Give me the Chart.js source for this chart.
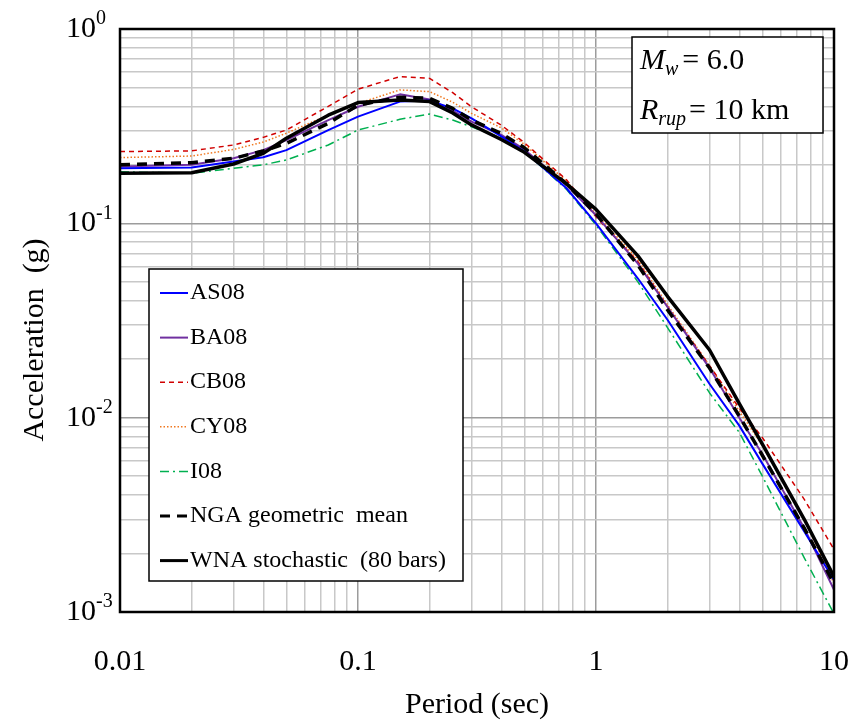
<!DOCTYPE html>
<html><head><meta charset="utf-8">
<script src="https://cdn.jsdelivr.net/npm/chart.js@4.4.1/dist/chart.umd.min.js"></script>
<style>html,body{margin:0;padding:0;background:#fff}#wrap{width:853px;height:723px;position:relative}</style>
</head><body><div id="wrap"><canvas id="c" width="853" height="723"></canvas></div>
<script>
// ---- data ----
const periods = [0.01,0.02,0.03,0.04,0.05,0.075,0.1,0.15,0.2,0.25,0.3,0.4,0.5,0.75,1,1.5,2,3,4,5,7.5,10];
const AS08 = [0.192,0.194,0.208,0.219,0.238,0.302,0.354,0.423,0.428,0.39,0.347,0.28,0.235,0.152,0.100,0.052,0.0318,0.0149,0.0091,0.0058,0.0026,0.00146];
const BA08 = [0.196,0.200,0.216,0.238,0.268,0.340,0.398,0.461,0.434,0.38,0.334,0.285,0.240,0.158,0.110,0.062,0.037,0.018,0.0100,0.0065,0.0027,0.0013];
const CB08 = [0.234,0.236,0.253,0.277,0.302,0.400,0.490,0.569,0.557,0.47,0.398,0.320,0.260,0.168,0.108,0.0635,0.0372,0.0185,0.0112,0.0079,0.0038,0.0021];
const CY08 = [0.218,0.222,0.240,0.262,0.291,0.361,0.414,0.486,0.476,0.42,0.368,0.310,0.255,0.165,0.112,0.065,0.038,0.0185,0.0108,0.0072,0.0030,0.0014];
const I08  = [0.184,0.181,0.192,0.200,0.212,0.253,0.302,0.343,0.365,0.34,0.314,0.275,0.235,0.150,0.098,0.050,0.029,0.0134,0.0084,0.0050,0.0019,0.00098];
const NGA_mean = [0.200,0.205,0.216,0.236,0.258,0.327,0.406,0.445,0.440,0.39,0.340,0.290,0.245,0.160,0.112,0.061,0.0358,0.018,0.0102,0.0064,0.0027,0.0014];
const WNA_stoch = [0.181,0.182,0.202,0.229,0.274,0.360,0.418,0.431,0.423,0.37,0.321,0.270,0.232,0.160,0.118,0.068,0.042,0.0223,0.0118,0.0073,0.0030,0.00152];
const seriesNames = ['AS08','BA08','CB08','CY08','I08','NGA geometric  mean','WNA stochastic  (80 bars)'];
const xTickLabels = ['0.01','0.1','1','10'];
const xTickValues = [0.01,0.1,1,10];
const yTickValues = [1,0.1,0.01,0.001];
const yTickExps = ['0','-1','-2','-3'];

const FONT = '"Liberation Serif","Times New Roman",serif';

function pts(arr){ return periods.map((p,i)=>({x:p,y:arr[i]})); }
function logTicks(min,max){
  const t=[];
  for(let e=Math.round(Math.log10(min)); e<Math.round(Math.log10(max)); e++){
    for(let m=1;m<10;m++) t.push({value:parseFloat((m*Math.pow(10,e)).toPrecision(6))});
  }
  t.push({value:max});
  return t;
}
function isMajor(v){ const l=Math.log10(v); return Math.abs(l-Math.round(l))<1e-6; }

const styles = [
  {c:'#0000ff', w:2,   d:[],          o:2},
  {c:'#7030a0', w:2,   d:[],          o:3},
  {c:'#d00000', w:1.5, d:[5,4],       o:4},
  {c:'#f07820', w:1.5, d:[1.5,2],     o:5},
  {c:'#00b050', w:1.5, d:[9,4,2,4],   o:6},
  {c:'#000000', w:3.5, d:[10,7],      o:1},
  {c:'#000000', w:3.5, d:[],          o:0}
];
const allSeries = [AS08,BA08,CB08,CY08,I08,NGA_mean,WNA_stoch];

const datasets = allSeries.map((s,i)=>({
  label: seriesNames[i], data: pts(s),
  borderColor: styles[i].c, borderWidth: styles[i].w, borderDash: styles[i].d,
  pointRadius: 0, fill:false, tension:0, order: styles[i].o, borderJoinStyle:'round'
}));

const gridColor = c => (c.tick && isMajor(c.tick.value)) ? '#9c9c9c' : '#c8c8c8';

const decor = {
  id:'decor',
  afterDraw(chart){
    const ctx = chart.ctx, a = chart.chartArea, xs = chart.scales.x, ys = chart.scales.y;
    ctx.save();
    // frame
    ctx.strokeStyle='#000'; ctx.lineWidth=2.5;
    ctx.strokeRect(a.left, a.top, a.right-a.left, a.bottom-a.top);
    // x tick labels
    ctx.fillStyle='#000';
    ctx.font='30px '+FONT; ctx.textAlign='center'; ctx.textBaseline='middle';
    xTickValues.forEach((v,i)=>{ ctx.fillText(xTickLabels[i], xs.getPixelForValue(v), 662); });
    // y tick labels with superscripts
    yTickValues.forEach((v,i)=>{
      const y = ys.getPixelForValue(v);
      ctx.textAlign='left'; ctx.textBaseline='middle';
      ctx.font='30px '+FONT; ctx.fillText('10', 66, y);
      const w = ctx.measureText('10').width;
      ctx.font='20px '+FONT; ctx.fillText(yTickExps[i], 66+w, y-10);
    });
    // axis titles
    ctx.font='30px '+FONT; ctx.textAlign='center'; ctx.textBaseline='middle';
    ctx.fillText('Period (sec)', (a.left+a.right)/2, 705);
    ctx.save(); ctx.translate(35, 340); ctx.rotate(-Math.PI/2);
    ctx.fillText('Acceleration  (g)', 0, 0); ctx.restore();
    // legend
    const lx=149, ly=269, lw=314, lh=312;
    ctx.fillStyle='#fff'; ctx.fillRect(lx,ly,lw,lh);
    ctx.strokeStyle='#000'; ctx.lineWidth=1.5; ctx.strokeRect(lx,ly,lw,lh);
    chart.data.datasets.forEach((ds,i)=>{
      const y = 293 + i*44.6;
      ctx.save();
      ctx.strokeStyle=ds.borderColor; ctx.lineWidth=Math.min(ds.borderWidth,3);
      ctx.setLineDash(ds.borderDash||[]);
      ctx.beginPath(); ctx.moveTo(160,y); ctx.lineTo(188,y); ctx.stroke();
      ctx.restore();
      ctx.fillStyle='#000'; ctx.font='24px '+FONT; ctx.textAlign='left'; ctx.textBaseline='middle';
      ctx.fillText(ds.label, 190, y);
    });
    // annotation box
    const bx=632, by=37, bw=191, bh=96;
    ctx.fillStyle='#fff'; ctx.fillRect(bx,by,bw,bh);
    ctx.strokeStyle='#000'; ctx.lineWidth=1.5; ctx.strokeRect(bx,by,bw,bh);
    ctx.fillStyle='#000'; ctx.textAlign='left'; ctx.textBaseline='alphabetic';
    let x=640;
    ctx.font='italic 30px '+FONT; ctx.fillText('M', x, 69); x+=ctx.measureText('M').width;
    ctx.font='italic 20px '+FONT; ctx.fillText('w', x, 75); x+=ctx.measureText('w').width+4;
    ctx.font='30px '+FONT; ctx.fillText('= 6.0', x, 69);
    x=640;
    ctx.font='italic 30px '+FONT; ctx.fillText('R', x, 119); x+=ctx.measureText('R').width;
    ctx.font='italic 20px '+FONT; ctx.fillText('rup', x, 125); x+=ctx.measureText('rup').width+3;
    ctx.font='30px '+FONT; ctx.fillText('= 10 km', x, 119);
    ctx.restore();
  }
};

new Chart(document.getElementById('c'), {
  type:'line',
  data:{ datasets },
  options:{
    responsive:false, animation:false, devicePixelRatio:1,
    layout:{ padding:{left:120, right:19, top:29, bottom:111} },
    plugins:{ legend:{display:false}, tooltip:{enabled:false} },
    scales:{
      x:{ type:'logarithmic', min:0.01, max:10,
          afterBuildTicks: s => { s.ticks = logTicks(0.01,10); },
          ticks:{display:false}, border:{display:false},
          grid:{ color:gridColor, lineWidth:1.5, drawTicks:false } },
      y:{ type:'logarithmic', min:0.001, max:1,
          afterBuildTicks: s => { s.ticks = logTicks(0.001,1); },
          ticks:{display:false}, border:{display:false},
          grid:{ color:gridColor, lineWidth:1.5, drawTicks:false } }
    }
  },
  plugins:[decor]
});
</script></body></html>
